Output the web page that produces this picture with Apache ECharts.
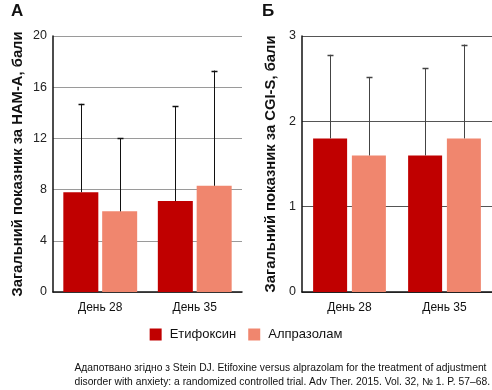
<!DOCTYPE html>
<html><head><meta charset="utf-8">
<script src="https://cdn.jsdelivr.net/npm/echarts@6/dist/echarts.min.js"></script>
<style>html,body{margin:0;padding:0;background:#fff}#c{width:492px;height:390px}</style>
</head><body><div id="c"></div>
<script>
const categories = ['День 28', 'День 35'];
const seriesNames = ['Етифоксин', 'Алпразолам'];
// Panel A: HAM-A
const hamEtifoxin = [7.8, 7.1];
const hamAlprazolam = [6.3, 8.3];
const hamEtifoxinUpper = [14.7, 14.5];
const hamAlprazolamUpper = [12.0, 17.3];
const hamTicks = [0, 4, 8, 12, 16, 20];
// Panel B: CGI-S
const cgiEtifoxin = [1.8, 1.6];
const cgiAlprazolam = [1.6, 1.8];
const cgiEtifoxinUpper = [2.78, 2.62];
const cgiAlprazolamUpper = [2.52, 2.9];
const cgiTicks = [0, 1, 2, 3];

const C1 = '#c00000', C2 = '#f0866e';
const FONT = '"Liberation Sans", Arial, Helvetica, sans-serif';

function errSeries(xi, yi, vals, uppers, offset, color) {
  return {
    type: 'custom', xAxisIndex: xi, yAxisIndex: yi, z: 5,
    data: vals.map((v, i) => [i, v, uppers[i]]),
    renderItem: function (params, api) {
      const c = api.value(0);
      const p0 = api.coord([c, api.value(1)]);
      const p1 = api.coord([c, api.value(2)]);
      const x = Math.round(p0[0] + offset) + 0.5;
      return {
        type: 'group', children: [
          { type: 'line', shape: { x1: x, y1: p0[1], x2: x, y2: p1[1] }, style: { stroke: color, lineWidth: 1 } },
          { type: 'line', shape: { x1: x - 3, y1: Math.round(p1[1]) + 0.5, x2: x + 3, y2: Math.round(p1[1]) + 0.5 }, style: { stroke: color, lineWidth: 1.5 } }
        ]
      };
    }
  };
}

function yAxis(gi, ticks, name, gridColor, nameGap) {
  return {
    gridIndex: gi, type: 'value', min: ticks[0], max: ticks[ticks.length - 1],
    interval: ticks[1] - ticks[0],
    name: name, nameLocation: 'middle', nameGap: nameGap,
    nameTextStyle: { fontFamily: FONT, fontWeight: 'bold', fontSize: 14.8, color: '#111' },
    axisLine: { show: true, lineStyle: { color: '#111', width: 1.5 } },
    axisTick: { show: false },
    axisLabel: { fontFamily: FONT, fontSize: 12.5, color: '#222', margin: 6 },
    splitLine: { show: true, lineStyle: { color: gridColor, width: 1 } }
  };
}
function xAxis(gi) {
  return {
    gridIndex: gi, type: 'category', data: categories,
    axisLine: { show: true, lineStyle: { color: '#111', width: 1.5 } },
    axisTick: { show: false },
    axisLabel: { fontFamily: FONT, fontSize: 12, color: '#111', margin: 10 }
  };
}

const chart = echarts.init(document.getElementById('c'));
chart.setOption({
  animation: false,
  backgroundColor: '#fff',
  grid: [
    { left: 53, top: 36, width: 189, height: 256 },
    { left: 302, top: 36, width: 190, height: 256 }
  ],
  xAxis: [xAxis(0), xAxis(1)],
  yAxis: [
    yAxis(0, hamTicks, 'Загальний показник за HAM-A, бали', '#9a9a9a', 28),
    yAxis(1, cgiTicks, 'Загальний показник за CGI-S, бали', '#555', 24)
  ],
  legend: {
    data: seriesNames, top: 328, left: 'center', itemWidth: 12, itemHeight: 12,
    itemGap: 12, icon: 'rect', padding: 0,
    textStyle: { fontFamily: FONT, fontSize: 13, color: '#111', padding: [0, 0, 0, 3] }
  },
  series: [
    { name: seriesNames[0], type: 'bar', xAxisIndex: 0, yAxisIndex: 0, data: hamEtifoxin, barWidth: 35, barGap: '11%', itemStyle: { color: C1 } },
    { name: seriesNames[1], type: 'bar', xAxisIndex: 0, yAxisIndex: 0, data: hamAlprazolam, barWidth: 35, barGap: '11%', itemStyle: { color: C2 } },
    { name: seriesNames[0], type: 'bar', xAxisIndex: 1, yAxisIndex: 1, data: cgiEtifoxin, barWidth: 34, barGap: '14%', itemStyle: { color: C1 } },
    { name: seriesNames[1], type: 'bar', xAxisIndex: 1, yAxisIndex: 1, data: cgiAlprazolam, barWidth: 34, barGap: '14%', itemStyle: { color: C2 } },
    errSeries(0, 0, hamEtifoxin, hamEtifoxinUpper, -19.5, '#111'),
    errSeries(0, 0, hamAlprazolam, hamAlprazolamUpper, 19.5, '#111'),
    errSeries(1, 1, cgiEtifoxin, cgiEtifoxinUpper, -19.5, '#444'),
    errSeries(1, 1, cgiAlprazolam, cgiAlprazolamUpper, 19.5, '#444')
  ],
  graphic: [
    { type: 'text', left: 11, top: 3, style: { text: 'А', font: 'bold 17px ' + FONT, fill: '#111' } },
    { type: 'text', left: 262, top: 3, style: { text: 'Б', font: 'bold 17px ' + FONT, fill: '#111' } },
    { type: 'text', right: 2, top: 361, style: {
      text: 'Адапотвано згідно з Stein DJ. Etifoxine versus alprazolam for the treatment of adjustment\ndisorder with anxiety: a randomized controlled trial. Adv Ther. 2015. Vol. 32, № 1. P. 57–68.',
      font: '10.3px ' + FONT, fill: '#111', align: 'right', lineHeight: 14 } }
  ]
});
</script>
</body></html>
